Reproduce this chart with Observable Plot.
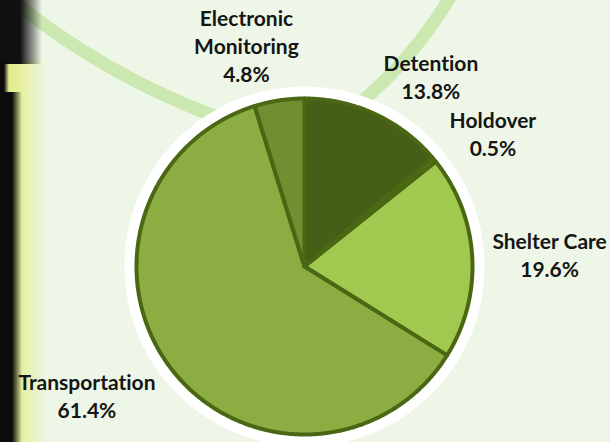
<!DOCTYPE html>
<html><head><meta charset="utf-8">
<script src="https://cdn.jsdelivr.net/npm/d3@7"></script>
<script src="https://cdn.jsdelivr.net/npm/@observablehq/plot@0.6"></script>
<style>
html,body{margin:0;padding:0;background:#eef7e7;}
svg text{font-variant-ligatures:none;font-feature-settings:"liga" 0,"clig" 0;}
#chart{width:610px;height:442px;position:relative;overflow:hidden;
background:
 linear-gradient(to right,#0c0c0c 0px,#0c0c0c 12px,rgba(12,12,12,0) 22px) 0 92px/40px 350px no-repeat,
 linear-gradient(to right,#0c0c0c 0px,#0c0c0c 4px,rgba(12,12,12,0) 9px) 0 60px/20px 40px no-repeat,
 linear-gradient(to bottom,rgba(17,17,17,0) 0px,rgba(17,17,17,0) 56px,rgba(226,236,132,0) 66px) 0 0/45px 66px no-repeat,
 linear-gradient(to right,#111 0px,#111 20px,rgba(17,17,17,0.55) 30px,rgba(17,17,17,0) 42px) 0 0/45px 64px no-repeat,
 linear-gradient(to right,#e4ed8e 0px,#e4ed8e 14px,rgba(228,237,142,0) 48px) 0 60px/60px 382px no-repeat,
 radial-gradient(circle at 469px -564px,rgba(203,232,176,0) 719px,#cbe8b0 720px,#cbe8b0 732px,rgba(203,232,176,0) 733px) 0 0/270px 442px no-repeat,
 radial-gradient(circle at -218px -225px,rgba(203,232,176,0) 423px,#cbe8b0 424px,#cbe8b0 436px,rgba(203,232,176,0) 437px) 300px 0/310px 200px no-repeat,
 #eef7e7;}
</style></head><body><div id="chart"></div>
<script>
const categories = ["Detention", "Holdover", "Shelter Care", "Transportation", "Electronic Monitoring"];
const shares = [13.8, 0.5, 19.6, 61.4, 4.8];
const labelNames = ["Detention", "Holdover", "Shelter Care", "Transportation", "Electronic\nMonitoring"];
const sliceColors = ["#465f16", "#56741c", "#a1c94f", "#8bad41", "#6f8f30"];

const FONT = "Lato";
const FS = 21, LH = 28, RPX = 168;

const arcs = d3.pie().sort(null).value(d => d)(shares);
const step = Math.PI / 360;
const slicePts = [];
arcs.forEach((p, i) => {
  const cat = categories[i];
  slicePts.push({cat, x: 0, y: 0});
  const n = Math.max(2, Math.ceil((p.endAngle - p.startAngle) / step));
  for (let k = 0; k <= n; k++) {
    const a = p.startAngle + (p.endAngle - p.startAngle) * k / n;
    slicePts.push({cat, x: Math.sin(a), y: Math.cos(a)});
  }
  slicePts.push({cat, x: 0, y: 0});
});
const rim = d3.range(0, 361).map(d => ({x: Math.sin(d * Math.PI / 180), y: Math.cos(d * Math.PI / 180)}));

// outside-end label placement: anchor on a circle just outside the pie,
// then push the text box outward depending on the direction
const ctx = document.createElement("canvas").getContext("2d");
ctx.font = `bold ${FS}px ${FONT}`;
const GAP = 188 / RPX;
const labels = arcs.map((p, i) => {
  const text = labelNames[i] + "\n" + shares[i].toFixed(1) + "%";
  const lines = text.split("\n");
  const w = d3.max(lines, l => ctx.measureText(l).width);
  const h = (lines.length - 1) * LH + FS * 0.72;
  const a = (p.startAngle + p.endAngle) / 2;
  const s = Math.sin(a), c = Math.cos(a);
  const fx = Math.max(-1, Math.min(1, 3.8 * s));
  return {
    text,
    x: GAP * s + (w / 2) * fx / RPX,
    y: GAP * c + (h / 2) * c / RPX
  };
});

const chart = Plot.plot({
  width: 610, height: 442, margin: 0,
  x: {domain: [-1, 1], range: [304 - RPX, 304 + RPX], axis: null},
  y: {domain: [-1, 1], range: [266 + RPX, 266 - RPX], axis: null},
  color: {domain: categories, range: sliceColors},
  style: {background: "transparent", overflow: "visible"},
  marks: [
    Plot.line(rim, {x: "x", y: "y", stroke: "white", strokeWidth: 24, fill: "white"}),
    Plot.line(slicePts, {x: "x", y: "y", z: "cat", fill: "cat", stroke: "#4a6813", strokeWidth: 4, strokeLinejoin: "round"}),
    Plot.text(labels, {x: "x", y: "y", text: "text", fontSize: FS, fontWeight: "bold", fontFamily: FONT,
      lineHeight: LH / FS, fill: "#151515", textAnchor: "middle", lineAnchor: "middle"})
  ]
});
document.getElementById("chart").appendChild(chart);
</script>
</body></html>
